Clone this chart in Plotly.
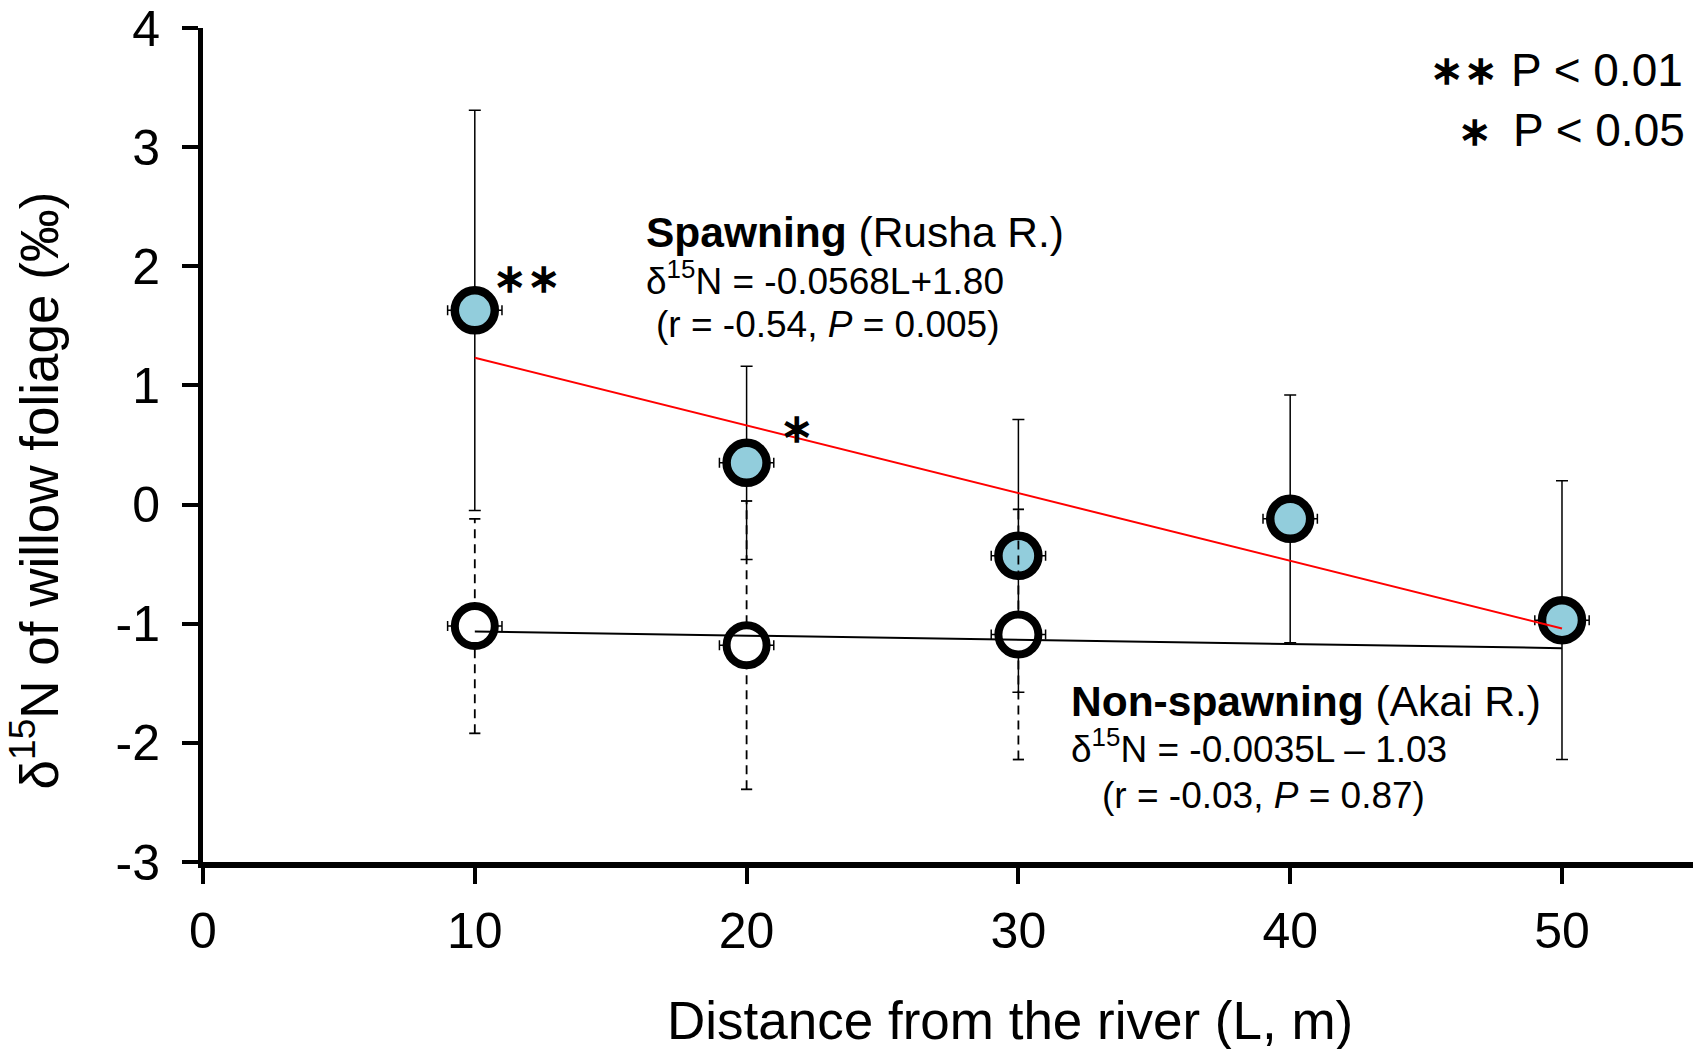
import plotly.graph_objects as go

# ---------------- data ----------------
L_spawn = [10, 20, 30, 40, 50]
d15N_spawn = [1.63, 0.35, -0.43, -0.12, -0.97]
sd_spawn = [1.68, 0.81, 1.145, 1.04, 1.17]
L_err_spawn = [1.0, 1.0, 1.0, 1.0, 1.0]

L_nonspawn = [10, 20, 30]
d15N_nonspawn = [-1.02, -1.18, -1.09]
sd_nonspawn = [0.90, 1.21, 1.05]
L_err_nonspawn = [1.0, 1.0, 1.0]

# regression: slope, intercept
reg_spawn = (-0.0568, 1.80)
reg_nonspawn = (-0.0035, -1.03)
fit_L = [10, 50]

x_tick_vals = [0, 10, 20, 30, 40, 50]
x_tick_text = ["0", "10", "20", "30", "40", "50"]
y_tick_vals = [-3, -2, -1, 0, 1, 2, 3, 4]
y_tick_text = ["-3", "-2", "-1", "0", "1", "2", "3", "4"]

# ---------------- layout geometry ----------------
W, H = 1693, 1049
ML, MR, MT, MB = 203, 0, 28, 187
PW, PH = W - ML - MR, H - MT - MB
X_RANGE = [0, 54.82]
Y_RANGE = [-3, 4]
FONT = "Liberation Sans, Arial, sans-serif"


def px_x(X):
    return (X - ML) / PW


def px_y(Y):
    return (H - MB - Y) / PH


fig = go.Figure()

# spawning: solid SD bars + blue markers
fig.add_trace(go.Scatter(
    x=L_spawn, y=d15N_spawn, mode="markers",
    error_y=dict(type="data", array=sd_spawn, color="black", thickness=1.5, width=6),
    error_x=dict(type="data", array=L_err_spawn, color="black", thickness=1.5, width=5),
    marker=dict(size=40, color="#92CDDC", line=dict(color="black", width=8.5)),
    showlegend=False, hoverinfo="skip"))

# non-spawning: dashed SD bars
dx, dy = [], []
for L, v, s in zip(L_nonspawn, d15N_nonspawn, sd_nonspawn):
    dx += [L, L, None]
    dy += [v - s, v + s, None]
fig.add_trace(go.Scatter(x=dx, y=dy, mode="lines",
                         line=dict(color="black", width=1.8, dash="9px,6px"),
                         showlegend=False, hoverinfo="skip"))
capx, capy = [], []
for L, v, s in zip(L_nonspawn, d15N_nonspawn, sd_nonspawn):
    capx += [L, L]
    capy += [v - s, v + s]
fig.add_trace(go.Scatter(x=capx, y=capy, mode="markers",
                         marker=dict(symbol="line-ew", size=8, line=dict(color="black", width=1.8)),
                         showlegend=False, hoverinfo="skip"))

# non-spawning markers
fig.add_trace(go.Scatter(
    x=L_nonspawn, y=d15N_nonspawn, mode="markers",
    error_x=dict(type="data", array=L_err_nonspawn, color="black", thickness=1.5, width=5),
    marker=dict(size=40, color="white", line=dict(color="black", width=8)),
    showlegend=False, hoverinfo="skip"))

# regression lines
fig.add_trace(go.Scatter(x=fit_L, y=[reg_nonspawn[0] * L + reg_nonspawn[1] for L in fit_L],
                         mode="lines", line=dict(color="black", width=2),
                         showlegend=False, hoverinfo="skip"))
fig.add_trace(go.Scatter(x=fit_L, y=[reg_spawn[0] * L + reg_spawn[1] for L in fit_L],
                         mode="lines", line=dict(color="#FF0000", width=2),
                         showlegend=False, hoverinfo="skip"))

ann = []


def text_left(X, baseline, txt, fs):
    ann.append(dict(x=px_x(X), y=px_y(baseline + 0.212 * fs + 1), xref="paper", yref="paper",
                    xanchor="left", yanchor="bottom", text=txt, showarrow=False,
                    font=dict(family=FONT, size=fs, color="black")))


def text_right(X, baseline, txt, fs):
    ann.append(dict(x=px_x(X), y=px_y(baseline + 0.212 * fs + 1), xref="paper", yref="paper",
                    xanchor="right", yanchor="bottom", text=txt, showarrow=False,
                    font=dict(family=FONT, size=fs, color="black")))


def star(Xc, Yc, txt, fs=40):
    ann.append(dict(x=px_x(Xc), y=px_y(Yc), xref="paper", yref="paper",
                    xanchor="center", yanchor="middle", text="<b>" + txt + "</b>", showarrow=False,
                    font=dict(family=FONT, size=fs, color="black")))


# spawning block
text_left(644, 248, "<b>Spawning</b> (Rusha R.)", 42.5)
text_left(644, 295, "δ<sup>15</sup>N = -0.0568L+1.80", 37)
text_left(654, 338, "(r = -0.54, <i>P</i> = 0.005)", 37)
# non-spawning block
text_left(1069, 717, "<b>Non-spawning</b> (Akai R.)", 42.5)
text_left(1069, 763, "δ<sup>15</sup>N = -0.0035L – 1.03", 37)
text_left(1100, 809, "(r = -0.03, <i>P</i> = 0.87)", 37)
# significance legend
text_right(1685, 87, "P < 0.01", 46)
text_right(1687, 147, "P < 0.05", 46)
star(1464, 70, "∗∗")
star(1475, 131, "∗")
# stars by points
star(527, 278, "∗∗")
star(797, 428, "∗")

# axis titles
ann.append(dict(x=px_x(1010), y=px_y(1040 + 0.212 * 53 + 1), xref="paper", yref="paper",
                xanchor="center", yanchor="bottom", showarrow=False,
                text="Distance from the river (L, m)",
                font=dict(family=FONT, size=53, color="black")))
ann.append(dict(x=px_x(70), y=px_y(491), xref="paper", yref="paper",
                xanchor="right", yanchor="middle", showarrow=False, textangle=-90,
                text="δ<sup>15</sup>N of willow foliage (‰)",
                font=dict(family=FONT, size=53, color="black")))

fig.update_layout(
    width=W, height=H,
    margin=dict(l=ML, r=MR, t=MT, b=MB, pad=0),
    paper_bgcolor="white", plot_bgcolor="white",
    showlegend=False,
    annotations=ann,
    xaxis=dict(range=X_RANGE, tickvals=x_tick_vals, ticktext=x_tick_text,
               showgrid=False, zeroline=False, showline=True, linecolor="black", linewidth=6,
               ticks="outside", ticklen=16, tickwidth=4, tickcolor="black",
               tickfont=dict(family=FONT, size=50, color="black"), ticklabelstandoff=4),
    yaxis=dict(range=Y_RANGE, tickvals=y_tick_vals, ticktext=y_tick_text,
               showgrid=False, zeroline=False, showline=True, linecolor="black", linewidth=5,
               ticks="outside", ticklen=16, tickwidth=4, tickcolor="black",
               tickfont=dict(family=FONT, size=50, color="black"), ticklabelstandoff=12),
)

fig.write_html("out.html", config={"displayModeBar": False},
               post_script="document.body.style.margin='0px';")
